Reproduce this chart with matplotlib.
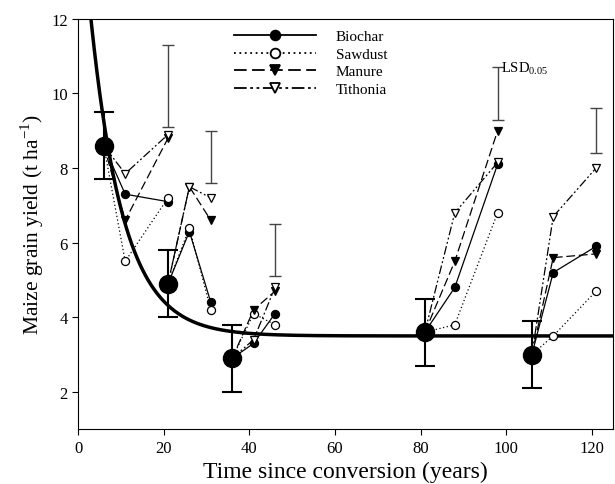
import numpy as np
import matplotlib.pyplot as plt

plt.rcParams['font.family'] = ['Liberation Serif', 'DejaVu Serif']

# control plots (big circles) with error bars
ctrl_x = [6, 21, 36, 81, 106]
ctrl_y = [8.6, 4.9, 2.9, 3.6, 3.0]
ctrl_err = [0.9, 0.9, 0.9, 0.9, 0.9]

# amendment plots: two seasons after each control
obs_x = [[11, 21], [26, 31], [41, 46], [88, 98], [111, 121]]
biochar = [[7.3, 7.1], [6.3, 4.4], [3.3, 4.1], [4.8, 8.1], [5.2, 5.9]]
sawdust = [[5.5, 7.2], [6.4, 4.2], [4.1, 3.8], [3.8, 6.8], [3.5, 4.7]]
manure = [[6.6, 8.8], [7.5, 6.6], [4.2, 4.7], [5.5, 9.0], [5.6, 5.7]]
tithonia = [[7.85, 8.9], [7.5, 7.2], [3.4, 4.8], [6.8, 8.15], [6.7, 8.0]]

# LSD bars
lsd_x = [21, 31, 46, 98, 121]
lsd_y = [10.2, 8.3, 5.8, 10.0, 9.0]
lsd_half = [1.1, 0.7, 0.7, 0.7, 0.6]

# fitted decay curve y = c + a*exp(-b*t)
fit_a, fit_b, fit_c = 12.55, 0.13, 3.5

fig = plt.figure(figsize=(6.15, 4.85), dpi=100)
ax = fig.add_axes([0.127, 0.113, 0.870, 0.846])

t = np.linspace(0, 125, 400)
ax.plot(t, fit_c + fit_a * np.exp(-fit_b * t), color='black', lw=2.5, zorder=3)

styles = [
    ('Biochar', biochar, '-', 'o', 'black'),
    ('Sawdust', sawdust, (0, (1, 2)), 'o', 'white'),
    ('Manure', manure, (0, (7, 3)), 'v', 'black'),
    ('Tithonia', tithonia, (0, (7, 2, 1.5, 2, 1.5, 2)), 'v', 'white'),
]
for name, vals, ls, mk, fc in styles:
    for i in range(len(ctrl_x)):
        xs = [ctrl_x[i]] + obs_x[i]
        ys = [ctrl_y[i]] + vals[i]
        ax.plot(xs, ys, color='black', lw=0.9, ls=ls, zorder=4)
        ax.plot(obs_x[i], vals[i], ls='none', marker=mk, ms=5.8, mfc=fc,
                mec='black', mew=0.9, zorder=5)
    ax.plot([], [], color='black', lw=1.3, ls=ls, marker=mk, ms=7, mfc=fc,
            mec='black', mew=1.3, label=name)

ax.errorbar(ctrl_x, ctrl_y, yerr=ctrl_err, fmt='o', ms=13, color='black',
            ecolor='black', elinewidth=1.5, capsize=7, capthick=1.5, zorder=6)
ax.errorbar(lsd_x, lsd_y, yerr=lsd_half, fmt='none', ecolor='#444444',
            elinewidth=1.0, capsize=4.5, capthick=1.0, zorder=2)
ax.text(lsd_x[3] + 0.8, lsd_y[3] + lsd_half[3], 'LSD$_{\\mathregular{0.05}}$',
        fontsize=10.5, va='center', ha='left')

ax.set_xlim(0, 125)
ax.set_ylim(1, 12)
ax.set_xticks([0, 20, 40, 60, 80, 100, 120])
ax.set_yticks([2, 4, 6, 8, 10, 12])
ax.tick_params(direction='out', labelsize=12, length=4)
ax.set_xlabel('Time since conversion (years)', fontsize=17)
ax.set_ylabel('Maize grain yield (t ha$^{\\mathregular{-1}}$)', fontsize=15.5)

ax.legend(loc='upper left', bbox_to_anchor=(0.265, 1.007), frameon=False,
          handlelength=5.4, fontsize=11, labelspacing=0.25, handletextpad=1.3)

fig.savefig('out.png', dpi=100)
